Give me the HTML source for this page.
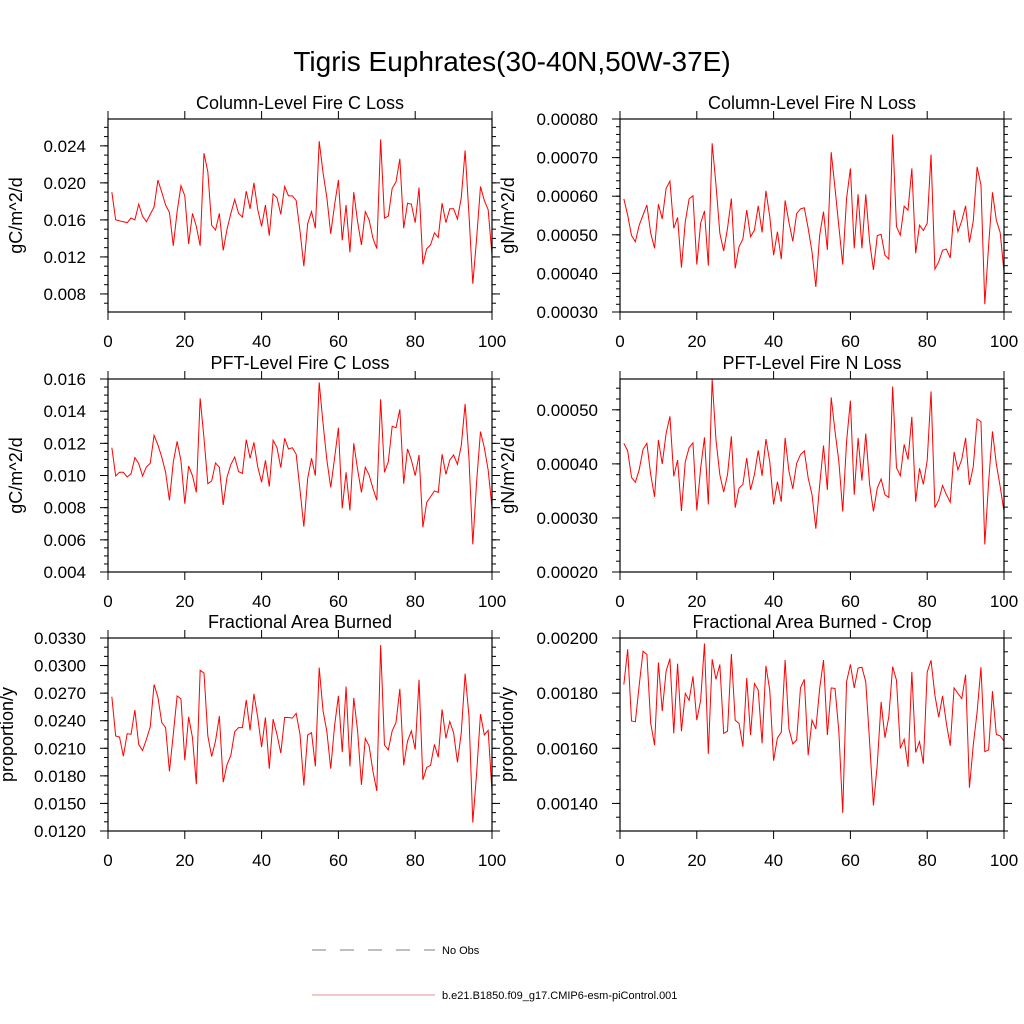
<!DOCTYPE html>
<html><head><meta charset="utf-8"><style>
html,body{margin:0;padding:0;background:#fff;}
svg{display:block;font-family:"Liberation Sans",sans-serif;}
</style></head><body>
<svg id="chart" width="1024" height="1024" viewBox="0 0 1024 1024" xmlns="http://www.w3.org/2000/svg">
<text x="512" y="71" font-size="28" text-anchor="middle">Tigris Euphrates(30-40N,50W-37E)</text>
<g>
<line x1="312" y1="950" x2="435" y2="950" stroke="#555" stroke-width="0.8" stroke-dasharray="14,14"/>
<text x="442" y="954" font-size="11">No Obs</text>
<line x1="312" y1="995" x2="435" y2="995" stroke="#e86a6a" stroke-width="0.8"/>
<text x="442" y="999" font-size="11">b.e21.B1850.f09_g17.CMIP6-esm-piControl.001</text>
</g>
</svg>
<script>
const xTickLabels=["0","20","40","60","80","100"];
const p1Values=[0.0190,0.0160,0.0159,0.0158,0.0157,0.0162,0.0160,0.0177,0.0164,0.0158,0.0166,0.0174,0.0203,0.0190,0.0176,0.0168,0.0132,0.0169,0.0197,0.0186,0.0134,0.0167,0.0153,0.0132,0.0232,0.0212,0.0154,0.0149,0.0167,0.0127,0.0150,0.0167,0.0182,0.0167,0.0163,0.0191,0.0172,0.0200,0.0171,0.0153,0.0176,0.0143,0.0188,0.0184,0.0166,0.0196,0.0186,0.0186,0.0181,0.0148,0.0110,0.0156,0.0169,0.0151,0.0245,0.0211,0.0184,0.0145,0.0176,0.0203,0.0138,0.0176,0.0125,0.0190,0.0158,0.0133,0.0169,0.0160,0.0140,0.0129,0.0247,0.0162,0.0164,0.0194,0.0201,0.0226,0.0151,0.0178,0.0177,0.0157,0.0195,0.0112,0.0129,0.0133,0.0146,0.0141,0.0178,0.0157,0.0172,0.0172,0.0161,0.0184,0.0235,0.0166,0.0091,0.0140,0.0196,0.0181,0.0171,0.0122];
const p2Values=[0.000593,0.000551,0.000498,0.000482,0.000525,0.000551,0.000577,0.000504,0.000465,0.000579,0.000541,0.000620,0.000639,0.000517,0.000545,0.000415,0.000534,0.000593,0.000601,0.000423,0.000530,0.000562,0.000420,0.000737,0.000629,0.000504,0.000458,0.000517,0.000594,0.000413,0.000469,0.000489,0.000564,0.000495,0.000512,0.000575,0.000506,0.000614,0.000547,0.000447,0.000508,0.000437,0.000589,0.000532,0.000483,0.000555,0.000567,0.000570,0.000517,0.000456,0.000365,0.000499,0.000560,0.000461,0.000714,0.000620,0.000521,0.000423,0.000594,0.000672,0.000465,0.000605,0.000465,0.000605,0.000482,0.000409,0.000498,0.000501,0.000447,0.000437,0.000760,0.000521,0.000499,0.000574,0.000564,0.000672,0.000452,0.000525,0.000511,0.000530,0.000708,0.000411,0.000430,0.000460,0.000463,0.000440,0.000564,0.000508,0.000536,0.000575,0.000480,0.000536,0.000676,0.000629,0.000320,0.000473,0.000610,0.000538,0.000506,0.000404];
const p3Values=[0.01173,0.00997,0.01020,0.01020,0.00991,0.01011,0.01111,0.01074,0.00997,0.01053,0.01076,0.01250,0.01190,0.01115,0.01020,0.00846,0.01082,0.01212,0.01092,0.00825,0.01059,0.00999,0.00895,0.01480,0.01231,0.00949,0.00966,0.01078,0.01051,0.00817,0.00991,0.01069,0.01115,0.01024,0.01013,0.01223,0.01107,0.01206,0.01053,0.00958,0.01094,0.00931,0.01219,0.01173,0.01049,0.01231,0.01165,0.01173,0.01132,0.00910,0.00682,0.00982,0.01107,0.00999,0.01579,0.01324,0.01096,0.00926,0.01107,0.01297,0.00796,0.01020,0.00783,0.01200,0.01038,0.00895,0.01051,0.01003,0.00920,0.00846,0.01474,0.01020,0.01086,0.01306,0.01297,0.01411,0.00949,0.01165,0.01096,0.00999,0.01128,0.00678,0.00833,0.00868,0.00904,0.00895,0.01132,0.01007,0.01096,0.01128,0.01069,0.01186,0.01445,0.01107,0.00572,0.00962,0.01273,0.01173,0.01034,0.00800];
const p4Values=[0.000438,0.000424,0.000375,0.000366,0.000389,0.000427,0.000438,0.000380,0.000339,0.000444,0.000400,0.000456,0.000488,0.000377,0.000407,0.000313,0.000404,0.000430,0.000439,0.000314,0.000392,0.000449,0.000325,0.000556,0.000444,0.000380,0.000348,0.000380,0.000451,0.000319,0.000355,0.000362,0.000411,0.000352,0.000380,0.000425,0.000378,0.000446,0.000404,0.000325,0.000367,0.000330,0.000448,0.000386,0.000354,0.000401,0.000417,0.000424,0.000374,0.000343,0.000280,0.000361,0.000434,0.000352,0.000523,0.000460,0.000404,0.000312,0.000441,0.000517,0.000343,0.000448,0.000369,0.000456,0.000362,0.000312,0.000355,0.000372,0.000343,0.000338,0.000543,0.000393,0.000378,0.000436,0.000408,0.000487,0.000330,0.000392,0.000362,0.000406,0.000534,0.000319,0.000333,0.000360,0.000343,0.000329,0.000422,0.000389,0.000408,0.000448,0.000361,0.000395,0.000483,0.000478,0.000251,0.000367,0.000460,0.000400,0.000358,0.000312];
const p5Values=[0.02662,0.02234,0.02223,0.02014,0.02259,0.02252,0.02516,0.02142,0.02076,0.02197,0.02333,0.02794,0.02655,0.02380,0.02325,0.01849,0.02252,0.02670,0.02637,0.01970,0.02442,0.02215,0.01709,0.02948,0.02919,0.02234,0.02010,0.02179,0.02450,0.01731,0.01922,0.02025,0.02281,0.02325,0.02325,0.02626,0.02296,0.02692,0.02435,0.02113,0.02435,0.01878,0.02417,0.02252,0.02047,0.02435,0.02435,0.02428,0.02479,0.02252,0.01695,0.02245,0.02270,0.01904,0.02978,0.02508,0.02281,0.01878,0.02343,0.02670,0.02058,0.02772,0.01904,0.02648,0.02289,0.01702,0.02208,0.02124,0.01849,0.01636,0.03223,0.02135,0.02083,0.02289,0.02380,0.02747,0.01915,0.02179,0.02289,0.02087,0.02846,0.01757,0.01893,0.01915,0.02142,0.02003,0.02523,0.02208,0.02391,0.02270,0.01948,0.02270,0.02912,0.02453,0.01292,0.01830,0.02472,0.02245,0.02296,0.01629];
const p6Values=[0.001831,0.001959,0.001699,0.001696,0.001829,0.001952,0.001940,0.001690,0.001612,0.001911,0.001735,0.001879,0.001925,0.001654,0.001907,0.001662,0.001799,0.001774,0.001861,0.001702,0.001774,0.001980,0.001580,0.001923,0.001850,0.001904,0.001654,0.001662,0.001942,0.001702,0.001690,0.001606,0.001855,0.001648,0.001835,0.001811,0.001618,0.001899,0.001811,0.001555,0.001638,0.001658,0.001920,0.001670,0.001616,0.001630,0.001819,0.001850,0.001575,0.001702,0.001670,0.001817,0.001920,0.001648,0.001819,0.001817,0.001660,0.001366,0.001841,0.001904,0.001819,0.001891,0.001894,0.001841,0.001624,0.001392,0.001542,0.001768,0.001638,0.001714,0.001896,0.001847,0.001600,0.001633,0.001533,0.001877,0.001585,0.001624,0.001544,0.001877,0.001919,0.001793,0.001713,0.001790,0.001690,0.001609,0.001819,0.001799,0.001780,0.001867,0.001457,0.001612,0.001732,0.001894,0.001588,0.001594,0.001807,0.001650,0.001645,0.001626];
const p1Ticks=["0.008","0.012","0.016","0.020","0.024"];
const p2Ticks=["0.00030","0.00040","0.00050","0.00060","0.00070","0.00080"];
const p3Ticks=["0.004","0.006","0.008","0.010","0.012","0.014","0.016"];
const p4Ticks=["0.00020","0.00030","0.00040","0.00050"];
const p5Ticks=["0.0120","0.0150","0.0180","0.0210","0.0240","0.0270","0.0300","0.0330"];
const p6Ticks=["0.00140","0.00160","0.00180","0.00200"];

const NS="http://www.w3.org/2000/svg";
const svg=document.getElementById('chart');
function mk(tag,attrs,parent,txt){const e=document.createElementNS(NS,tag);for(const k in attrs)e.setAttribute(k,attrs[k]);if(txt!==undefined)e.textContent=txt;parent.appendChild(e);return e;}

const panels=[
 {name:'column-fire-c-loss',title:'Column-Level Fire C Loss',ytitle:'gC/m^2/d',vals:p1Values,ticks:p1Ticks,ymin:0.00605,ymax:0.0269,minor:0.001,x0:108,y0:119,tx:16},
 {name:'column-fire-n-loss',title:'Column-Level Fire N Loss',ytitle:'gN/m^2/d',vals:p2Values,ticks:p2Ticks,ymin:0.0003,ymax:0.0008,minor:0.00002,x0:620,y0:119,tx:508},
 {name:'pft-fire-c-loss',title:'PFT-Level Fire C Loss',ytitle:'gC/m^2/d',vals:p3Values,ticks:p3Ticks,ymin:0.004,ymax:0.016,minor:0.0005,x0:108,y0:379,tx:16},
 {name:'pft-fire-n-loss',title:'PFT-Level Fire N Loss',ytitle:'gN/m^2/d',vals:p4Values,ticks:p4Ticks,ymin:0.0002,ymax:0.000557,minor:0.00002,x0:620,y0:379,tx:508},
 {name:'fractional-area-burned',title:'Fractional Area Burned',ytitle:'proportion/y',vals:p5Values,ticks:p5Ticks,ymin:0.012,ymax:0.033,minor:0.001,x0:108,y0:638,tx:7},
 {name:'fractional-area-burned-crop',title:'Fractional Area Burned - Crop',ytitle:'proportion/y',vals:p6Values,ticks:p6Ticks,ymin:0.0013,ymax:0.002,minor:0.00005,x0:620,y0:638,tx:507}
];
const W=384,H=193;
panels.forEach(p=>{
 const g=mk('g',{},svg);
 
 
 const xs=v=>p.x0+v/100*W;
 const ys=v=>p.y0+H-(v-p.ymin)/(p.ymax-p.ymin)*H;
 const t=mk('text',{x:p.x0+W/2,y:p.y0-10,'font-size':18,'text-anchor':'middle'},g,p.title);
 
 
 const yt=mk('text',{x:0,y:0,'font-size':18,'text-anchor':'middle',transform:`translate(${p.tx+6},${p.y0+H/2}) rotate(-90)`},g,p.ytitle);
 
 
 let n=Math.ceil(p.ymin/p.minor-1e-6);
 for(let v=n*p.minor;v<=p.ymax+1e-12;v+=p.minor){const y=ys(v);
  const a=mk('line',{x1:p.x0-4,x2:p.x0,y1:y,y2:y,stroke:'#000','stroke-width':1},g);
  
  
  const b=mk('line',{x1:p.x0+W,x2:p.x0+W+4,y1:y,y2:y,stroke:'#000','stroke-width':1},g);
  
  }
 p.ticks.forEach(lbl=>{const y=ys(parseFloat(lbl));
  const a=mk('line',{x1:p.x0-8,x2:p.x0,y1:y,y2:y,stroke:'#000','stroke-width':1},g);
  
  
  const b=mk('line',{x1:p.x0+W,x2:p.x0+W+8,y1:y,y2:y,stroke:'#000','stroke-width':1},g);
  
  
  const tl=mk('text',{x:p.x0-22,y:y+6,'font-size':17,'text-anchor':'end'},g,lbl);
  
  });
 xTickLabels.forEach(lbl=>{const x=xs(parseFloat(lbl));
  const a=mk('line',{x1:x,x2:x,y1:p.y0+H,y2:p.y0+H+8,stroke:'#000','stroke-width':1},g);
  
  
  const b=mk('line',{x1:x,x2:x,y1:p.y0-8,y2:p.y0,stroke:'#000','stroke-width':1},g);
  
  
  const tl=mk('text',{x:x,y:p.y0+H+35,'font-size':17,'text-anchor':'middle'},g,lbl);
  
  });
 const N=p.vals.length;
 const pts=p.vals.map((v,i)=>xs(1+i*99/(N-1)).toFixed(2)+','+ys(v).toFixed(2)).join(' ');
 const line=mk('polyline',{points:pts,fill:'none',stroke:'#ff0000','stroke-width':1},g);
 
 
 const r=mk('rect',{x:p.x0,y:p.y0,width:W,height:H,fill:'none',stroke:'#000','stroke-width':1.2},g);
 
 
});
</script>
</body></html>
